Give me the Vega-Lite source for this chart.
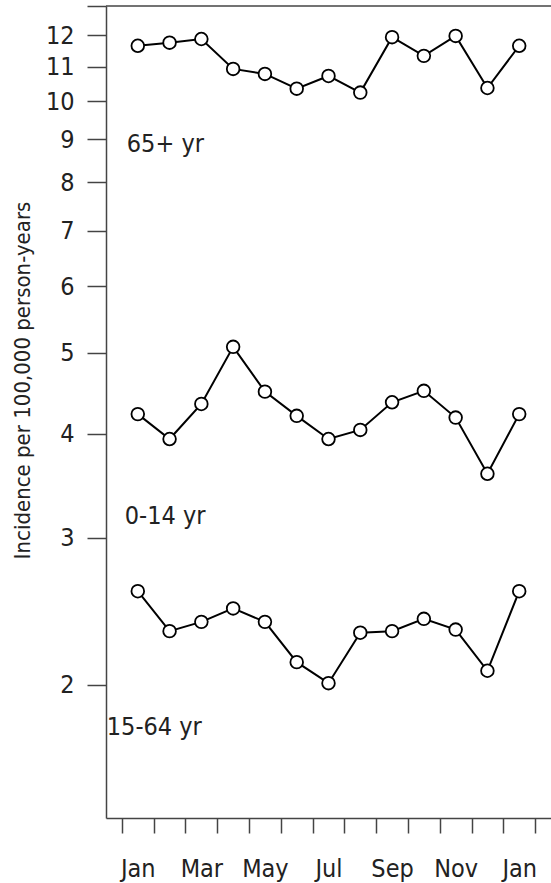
{
  "$schema": "https://vega.github.io/schema/vega-lite/v6.json",
  "width": 445,
  "height": 812,
  "autosize": {"type": "none"},
  "padding": {"left": 106, "top": 6, "right": 0, "bottom": 65},
  "background": "white",
  "config": {
    "view": {"stroke": null},
    "font": "DejaVu Sans Condensed, sans-serif",
    "axis": {
      "grid": false,
      "domainColor": "#444",
      "tickColor": "#444",
      "labelColor": "#222",
      "titleColor": "#222",
      "labelFont": "DejaVu Sans Condensed, sans-serif",
      "titleFont": "DejaVu Sans Condensed, sans-serif",
      "labelFontSize": 25,
      "titleFontSize": 22,
      "titleFontWeight": "normal",
      "domainWidth": 1.5,
      "tickWidth": 1.5
    }
  },
  "datasets": {
    "series": [
      {"group": "65+ yr", "m": 1, "rate": 11.65},
      {"group": "65+ yr", "m": 2, "rate": 11.75},
      {"group": "65+ yr", "m": 3, "rate": 11.87},
      {"group": "65+ yr", "m": 4, "rate": 10.93},
      {"group": "65+ yr", "m": 5, "rate": 10.78},
      {"group": "65+ yr", "m": 6, "rate": 10.35},
      {"group": "65+ yr", "m": 7, "rate": 10.72},
      {"group": "65+ yr", "m": 8, "rate": 10.24},
      {"group": "65+ yr", "m": 9, "rate": 11.93},
      {"group": "65+ yr", "m": 10, "rate": 11.33},
      {"group": "65+ yr", "m": 11, "rate": 11.97},
      {"group": "65+ yr", "m": 12, "rate": 10.37},
      {"group": "65+ yr", "m": 13, "rate": 11.65},
      {"group": "0-14 yr", "m": 1, "rate": 4.22},
      {"group": "0-14 yr", "m": 2, "rate": 3.94},
      {"group": "0-14 yr", "m": 3, "rate": 4.34},
      {"group": "0-14 yr", "m": 4, "rate": 5.08},
      {"group": "0-14 yr", "m": 5, "rate": 4.49},
      {"group": "0-14 yr", "m": 6, "rate": 4.2},
      {"group": "0-14 yr", "m": 7, "rate": 3.94},
      {"group": "0-14 yr", "m": 8, "rate": 4.04},
      {"group": "0-14 yr", "m": 9, "rate": 4.36},
      {"group": "0-14 yr", "m": 10, "rate": 4.5},
      {"group": "0-14 yr", "m": 11, "rate": 4.18},
      {"group": "0-14 yr", "m": 12, "rate": 3.58},
      {"group": "0-14 yr", "m": 13, "rate": 4.22},
      {"group": "15-64 yr", "m": 1, "rate": 2.59},
      {"group": "15-64 yr", "m": 2, "rate": 2.32},
      {"group": "15-64 yr", "m": 3, "rate": 2.38},
      {"group": "15-64 yr", "m": 4, "rate": 2.47},
      {"group": "15-64 yr", "m": 5, "rate": 2.38},
      {"group": "15-64 yr", "m": 6, "rate": 2.13},
      {"group": "15-64 yr", "m": 7, "rate": 2.01},
      {"group": "15-64 yr", "m": 8, "rate": 2.31},
      {"group": "15-64 yr", "m": 9, "rate": 2.32},
      {"group": "15-64 yr", "m": 10, "rate": 2.4},
      {"group": "15-64 yr", "m": 11, "rate": 2.33},
      {"group": "15-64 yr", "m": 12, "rate": 2.08},
      {"group": "15-64 yr", "m": 13, "rate": 2.59}
    ],
    "labels": [
      {"group": "65+ yr", "m": 1, "rate": 8.7},
      {"group": "0-14 yr", "m": 1, "rate": 3.12},
      {"group": "15-64 yr", "m": 1, "rate": 1.743}
    ],
    "top": [{"rate": 13.0}]
  },
  "encoding": {
    "x": {
      "field": "m",
      "type": "ordinal",
      "scale": {"type": "band", "domain": [1,2,3,4,5,6,7,8,9,10,11,12,13], "paddingInner": 0, "paddingOuter": 0.5},
      "axis": {
        "title": null,
        "labelAngle": 0,
        "tickBand": "extent",
        "tickSize": 15,
        "labelPadding": 23,
        "labelExpr": "datum.value % 2 == 1 ? ['Jan','Feb','Mar','Apr','May','Jun','Jul','Aug','Sep','Oct','Nov','Dec','Jan'][datum.value - 1] : ''"
      }
    },
    "y": {
      "field": "rate",
      "type": "quantitative",
      "scale": {"type": "log", "domain": [1.386, 13.0], "nice": false},
      "axis": {
        "title": "Incidence per 100,000 person-years",
        "values": [2, 3, 4, 5, 6, 7, 8, 9, 10, 11, 12, 13],
        "labelExpr": "datum.value > 12.5 ? '' : datum.value",
        "tickSize": 19,
        "labelPadding": 13,
        "titleX": -84,
        "titleY": 374,
        "titleBaseline": "middle",
        "titleAlign": "center",
        "titleAngle": -90
      }
    }
  },
  "layer": [
    {
      "data": {"name": "series"},
      "mark": {"type": "line", "color": "black", "strokeWidth": 2},
      "encoding": {"detail": {"field": "group"}}
    },
    {
      "data": {"name": "series"},
      "mark": {"type": "point", "shape": "circle", "filled": true, "fill": "white", "stroke": "black", "strokeWidth": 1.8, "size": 160, "opacity": 1}
    },
    {
      "data": {"name": "labels"},
      "transform": [{"filter": "datum.group == '65+ yr'"}],
      "mark": {"type": "text", "align": "left", "baseline": "alphabetic", "dx": -11, "fontSize": 25, "color": "#222"},
      "encoding": {"text": {"field": "group"}}
    },
    {
      "data": {"name": "labels"},
      "transform": [{"filter": "datum.group == '0-14 yr'"}],
      "mark": {"type": "text", "align": "left", "baseline": "alphabetic", "dx": -13, "fontSize": 25, "color": "#222"},
      "encoding": {"text": {"field": "group"}}
    },
    {
      "data": {"name": "labels"},
      "transform": [{"filter": "datum.group == '15-64 yr'"}],
      "mark": {"type": "text", "align": "left", "baseline": "alphabetic", "dx": -31, "fontSize": 25, "color": "#222"},
      "encoding": {"text": {"field": "group"}}
    },
    {
      "data": {"name": "top"},
      "mark": {"type": "rule", "color": "#444", "strokeWidth": 1.5},
      "encoding": {"x": null, "y": {"field": "rate", "type": "quantitative"}}
    }
  ]
}
